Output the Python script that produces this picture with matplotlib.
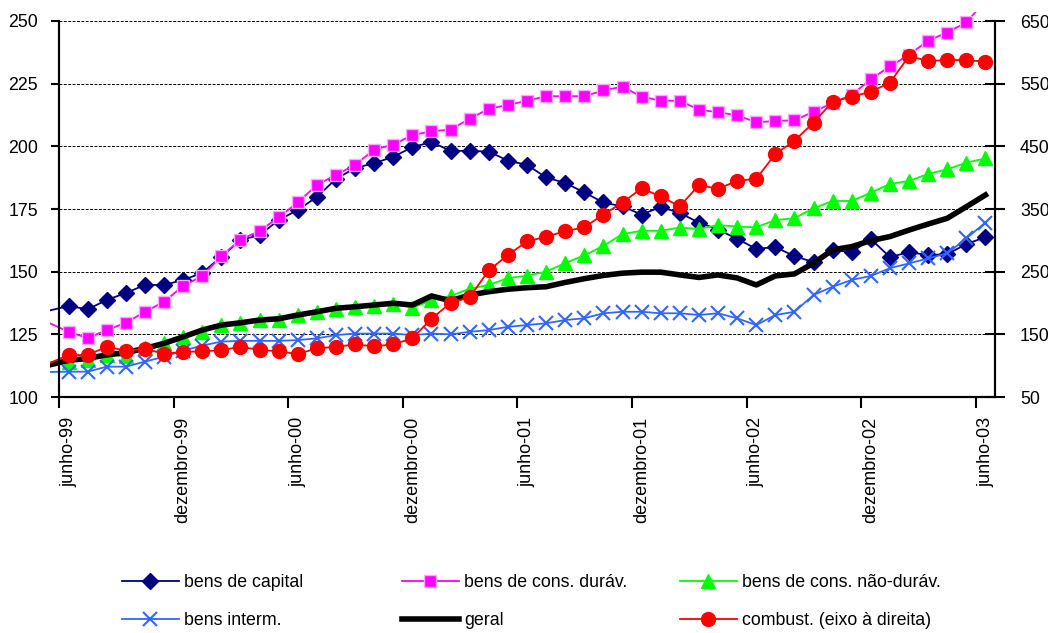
import numpy as np
import matplotlib
matplotlib.use("Agg")
import matplotlib.pyplot as plt
from matplotlib.patches import Rectangle
from matplotlib.lines import Line2D

plt.rcParams["font.family"] = ["Liberation Sans", "DejaVu Sans"]

# --------------------------------------------------------------------
# Data: monthly indices, maio-99 .. junho-03
# (the maio-99 value only shows as a short stub at the left edge)
# --------------------------------------------------------------------
capital = [134.5,
           136.3, 135.0, 138.7, 141.5, 144.7, 144.7, 146.7, 149.5, 156.0, 162.6,
           164.6, 170.6, 174.6, 179.8, 187.0, 191.3, 193.3, 195.8, 199.7, 201.7,
           198.2, 198.2, 197.9, 194.3, 192.6, 187.6, 185.4, 181.6, 177.6, 176.0,
           172.8, 175.8, 173.4, 169.6, 166.8, 163.1, 159.1, 159.8, 156.2, 153.8,
           158.6, 157.8, 163.0, 155.8, 157.8, 156.6, 157.0, 161.0, 163.8]

duraveis = [129.5,
            126.0, 123.5, 126.7, 129.6, 134.0, 138.0, 144.3, 148.3, 156.2, 162.8,
            166.2, 171.7, 177.6, 184.6, 188.6, 192.6, 198.7, 200.7, 204.5, 206.0,
            206.7, 211.0, 215.0, 216.5, 218.2, 220.0, 220.0, 220.0, 222.3, 223.8,
            219.8, 218.2, 218.2, 214.6, 213.6, 212.4, 209.6, 210.1, 210.4, 213.8,
            217.3, 220.5, 226.8, 231.9, 236.5, 242.2, 245.4, 249.5, 258.0]

nao_duraveis = [112.5,
                114.1, 114.8, 116.8, 116.4, 119.5, 121.5, 124.0, 126.0, 128.7, 129.5,
                130.7, 130.7, 132.7, 134.0, 135.2, 135.8, 136.3, 137.3, 135.6, 138.6,
                140.3, 143.2, 144.7, 147.4, 148.4, 150.0, 153.4, 156.5, 160.3, 165.0,
                166.3, 166.3, 167.6, 167.0, 168.6, 168.0, 167.7, 170.6, 171.3, 175.3,
                178.2, 178.2, 181.5, 185.0, 186.2, 189.0, 190.8, 193.5, 195.2]

intermediarios = [110.0,
                  110.1, 110.1, 112.1, 112.1, 114.1, 116.1, 118.5, 120.5, 122.1, 122.4,
                  122.4, 122.4, 122.7, 123.4, 124.7, 125.3, 125.3, 125.3, 124.7, 125.3,
                  125.0, 126.0, 126.7, 128.0, 128.7, 129.4, 130.7, 131.4, 133.4, 134.0,
                  134.0, 133.4, 133.4, 132.7, 133.4, 131.4, 128.7, 132.7, 134.0, 140.7,
                  144.0, 146.7, 148.3, 151.4, 153.3, 155.3, 157.3, 163.3, 169.6]

geral = [112.8,
         114.6, 115.4, 116.8, 117.7, 119.4, 121.4, 124.0, 126.7, 128.7, 129.6,
         130.7, 131.2, 132.7, 134.0, 135.4, 136.0, 136.7, 137.4, 136.7, 140.3,
         138.4, 140.7, 142.0, 143.0, 143.6, 144.0, 145.7, 147.2, 148.5, 149.4,
         149.8, 149.8, 148.7, 147.7, 148.7, 147.5, 144.7, 148.3, 149.1, 153.4,
         158.7, 160.0, 162.4, 164.0, 166.6, 169.0, 171.3, 175.9, 180.6]

# right axis
combustiveis = [104.0,
                117.0, 117.0, 130.3, 123.9, 126.5, 119.2, 121.8, 123.0, 124.5, 130.3,
                125.0, 123.0, 118.6, 127.7, 130.0, 134.0, 130.8, 134.0, 143.6, 175.0,
                200.0, 209.5, 252.0, 276.6, 298.2, 305.8, 314.6, 320.8, 341.2, 360.3,
                383.0, 370.1, 354.2, 388.3, 382.2, 395.0, 398.2, 437.7, 459.0, 487.7,
                521.2, 529.2, 537.2, 551.5, 594.1, 586.1, 587.7, 587.7, 585.0]

tick_labels = ["junho-99", "dezembro-99", "junho-00", "dezembro-00", "junho-01",
               "dezembro-01", "junho-02", "dezembro-02", "junho-03"]

series_labels = ["bens de capital", "bens de cons. duráv.", "bens de cons. não-duráv.",
                 "bens interm.", "geral", "combust. (eixo à direita)"]

# --------------------------------------------------------------------
# Figure
# --------------------------------------------------------------------
W, H = 1048, 633
fig = plt.figure(figsize=(W / 100, H / 100), dpi=100)
ax = fig.add_axes([59 / W, 1 - 397 / H, 936 / W, 376 / H])
ax2 = ax.twinx()

x = np.arange(len(geral)) - 0.5   # maio-99 at -0.5, junho-99 at 0.5
marks = list(range(1, len(geral)))

styles = [
    dict(color="#000080", lw=1.3, marker="D", ms=8.5, mfc="#000080", mec="#000080"),
    dict(color="#FF00FF", lw=1.3, marker="s", ms=9, mfc="#FF00FF", mec="#FFA8FF", mew=1.0),
    dict(color="#00FF00", lw=1.3, marker="^", ms=10, mfc="#00FF00", mec="#00FF00"),
    dict(color="#3366FF", lw=1.3, marker="x", ms=10, mec="#3366FF", mew=1.5),
    dict(color="black", lw=4.0, marker=None),
    dict(color="#FF0000", lw=1.3, marker="o", ms=10, mfc="#FF0000", mec="#FF0000"),
]


def clip_wide(line, a):
    # lines run slightly past the plot frame (left stub, top overshoot)
    r = Rectangle((-9 / 936, 0), 1 + 9 / 936, 1 + 9 / 376, transform=a.transAxes)
    line.set_clip_path(r)


left_series = [capital, duraveis, nao_duraveis, intermediarios, geral]
for vals, st in zip(left_series, styles[:5]):
    (ln,) = ax.plot(x, vals, markevery=marks, **st)
    clip_wide(ln, ax)

(ln,) = ax2.plot(x, combustiveis, markevery=marks, **styles[5])
clip_wide(ln, ax2)

# axes limits / ticks
ax.set_xlim(0, 49)
ax.set_ylim(100, 250)
ax2.set_ylim(50, 650)
ax.set_yticks(np.arange(100, 251, 25))
ax2.set_yticks(np.arange(50, 651, 100))

ax.set_xticks(np.arange(0, 49, 6))
ax.set_xticklabels([])
ax.set_xticks(np.arange(0, 49, 6) + 0.5, minor=True)
ax.set_xticklabels(tick_labels, minor=True, rotation=90, fontsize=13)
ax.tick_params(axis="x", which="major", direction="out", length=8, width=1.5)
ax.tick_params(axis="x", which="minor", length=0, pad=14)

ax.tick_params(axis="y", direction="out", length=6, width=1.5, labelsize=12.8, pad=9)
ax2.tick_params(axis="y", direction="inout", length=14, width=1.5, labelsize=12.8, pad=11)

ax.yaxis.grid(True, linestyle=(0, (3, 1.5)), color="black", lw=0.7)

for a in (ax, ax2):
    a.spines["top"].set_visible(False)
    for s in ("left", "right", "bottom"):
        a.spines[s].set_linewidth(1.5)

# --------------------------------------------------------------------
# Legend: three columns, two rows
# --------------------------------------------------------------------
proxies = [Line2D([], [], **st) for st in styles]

columns = [(0, 3, 122), (1, 4, 402), (2, 5, 680)]
for i, j, xpx in columns:
    fig.legend([proxies[i], proxies[j]], [series_labels[i], series_labels[j]],
               loc="upper left", bbox_to_anchor=(xpx / W, 1 - 574 / H),
               frameon=False, borderpad=0, borderaxespad=0,
               handlelength=3.2, handletextpad=0.29, labelspacing=1.2,
               fontsize=12.8)

fig.savefig("out.png", dpi=100)
